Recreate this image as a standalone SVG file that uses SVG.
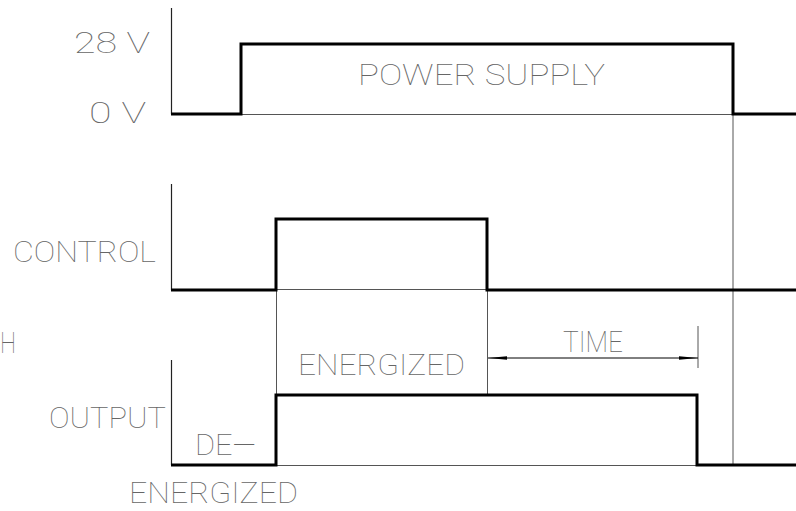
<svg xmlns="http://www.w3.org/2000/svg" width="796" height="511" viewBox="0 0 796 511">
<defs>
<style>
.lbl{font-family:Roboto,"Liberation Sans",Arial,sans-serif;font-weight:100;font-size:29px;fill:#666;}
.thick{fill:none;stroke:#000;stroke-width:3;stroke-linejoin:miter;}
.thin{fill:none;stroke:#555;stroke-width:1;}
.axis{fill:none;stroke:#222;stroke-width:1.2;}
</style>
<marker id="ah" viewBox="0 0 19 6" refX="19" refY="3" markerWidth="19" markerHeight="6" markerUnits="userSpaceOnUse" orient="auto-start-reverse">
<path d="M0,1.2 L19,3 L0,4.8 Z" fill="#000"/>
</marker>
</defs>
<rect width="796" height="511" fill="#fff"/>
<g id="connectors">
<line class="axis" x1="171.5" y1="8" x2="171.5" y2="114"/>
<line class="axis" x1="171.5" y1="184" x2="171.5" y2="290"/>
<line class="axis" x1="171.5" y1="360" x2="171.5" y2="465"/>
<line class="thin" x1="241" y1="114.5" x2="733" y2="114.5"/>
<line class="thin" x1="733" y1="114" x2="733" y2="465"/>
<line class="thin" x1="276" y1="289.5" x2="487" y2="289.5"/>
<line class="thin" x1="276.5" y1="290" x2="276.5" y2="395"/>
<line class="thin" x1="487.5" y1="290" x2="487.5" y2="395"/>
<line class="thin" x1="276" y1="465.5" x2="697" y2="465.5"/>
<line class="thin" x1="698" y1="326" x2="698" y2="368"/>
<line x1="488" y1="358" x2="698" y2="358" stroke="#000" stroke-width="1" marker-start="url(#ah)" marker-end="url(#ah)"/>
</g>
<g id="power-supply">
<polyline class="thick" points="171,114 241,114 241,44 733,44 733,114 796,114"/>
</g>
<g id="control">
<polyline class="thick" points="171,290 276,290 276,219 487,219 487,290 796,290"/>
</g>
<g id="output">
<polyline class="thick" points="171,465 276,465 276,395 697,395 697,465 796,465"/>
</g>
<g id="labels">
<text class="lbl" x="74" y="53" textLength="76" lengthAdjust="spacingAndGlyphs">28 V</text>
<text class="lbl" x="89" y="123" textLength="57" lengthAdjust="spacingAndGlyphs">0 V</text>
<text class="lbl" x="358" y="85" textLength="247" lengthAdjust="spacingAndGlyphs">POWER  SUPPLY</text>
<text class="lbl" x="13" y="262" textLength="143" lengthAdjust="spacingAndGlyphs">CONTROL</text>
<text class="lbl" x="0" y="353" textLength="16" lengthAdjust="spacingAndGlyphs">H</text>
<text class="lbl" x="563" y="352" textLength="60" lengthAdjust="spacingAndGlyphs">TIME</text>
<text class="lbl" x="298" y="375" textLength="167" lengthAdjust="spacingAndGlyphs">ENERGIZED</text>
<text class="lbl" x="49" y="428" textLength="117" lengthAdjust="spacingAndGlyphs">OUTPUT</text>
<text class="lbl" x="195" y="455" textLength="61" lengthAdjust="spacingAndGlyphs">DE—</text>
<text class="lbl" x="129" y="503" textLength="169" lengthAdjust="spacingAndGlyphs">ENERGIZED</text>
</g>
</svg>
